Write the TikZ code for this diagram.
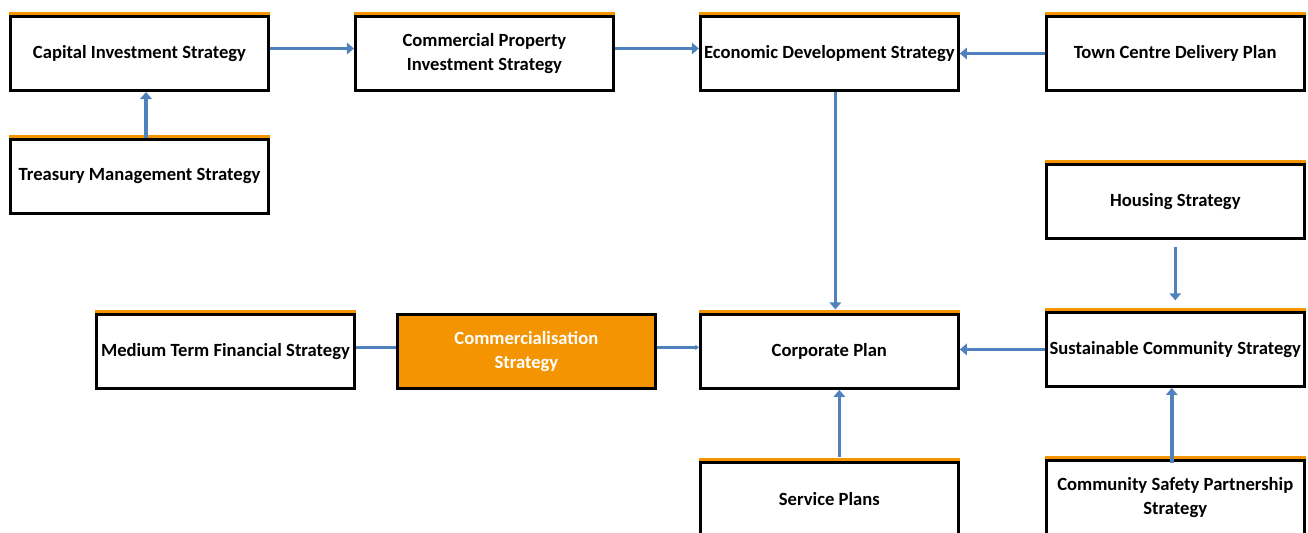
\documentclass[tikz,border=0pt]{standalone}
\usepackage{fontspec}
\setmainfont{Carlito}
\usepackage{tikz}
\usetikzlibrary{positioning, arrows.meta}

\definecolor{stratorange}{RGB}{244,148,0}
\definecolor{linkblue}{RGB}{79,129,189}

\begin{document}
\begin{tikzpicture}[
    x=0.02cm, y=-0.02cm,
    box/.style={rectangle, draw=black, line width=1.7pt, fill=white, inner xsep=1pt, minimum width=5.16cm, minimum height=1.48cm, align=center, font=\fontsize{10.6}{13.7}\selectfont\bfseries},
    keybox/.style={box, fill=stratorange, text=white},
    topline/.style={draw=stratorange, line width=2pt},
    link/.style={draw=linkblue, line width=2pt, -{Triangle[length=4pt, width=6.5pt]}},
    ]
    \useasboundingbox (0,0) rectangle (1308,533);
    \clip (0,0) rectangle (1308,533);

    \node[box] (cap) at (139.5,53.5) {Capital Investment Strategy};
    \node[box] (cpi) [right=1.68cm of cap] {Commercial Property\\Investment Strategy};
    \node[box] (eds) [right=1.68cm of cpi] {Economic Development Strategy};
    \node[box] (tcd) [right=1.7cm of eds] {Town Centre Delivery Plan};
    \node[box] (tms) [below=0.92cm of cap] {Treasury Management Strategy};
    \node[box] (hs) [below=1.42cm of tcd] {Housing Strategy};
    \node[box] (cp) [below=4.42cm of eds] {Corporate Plan};
    \node[box] (scs) [below=1.42cm of hs] {Sustainable Community Strategy};
    \node[keybox] (cs) [left=0.84cm of cp] {Commercialisation\\Strategy};
    \node[box] (mtfs) [left=0.8cm of cs] {Medium Term Financial Strategy};
    \node[box] (sp) [below=1.42cm of cp] {Service Plans};
    \node[box] (csp) [below=1.42cm of scs] {Community Safety Partnership\\Strategy};

    \foreach \n in {cap,cpi,eds,tcd,tms,hs,mtfs,cp,scs,sp,csp}
        \draw[topline] ([yshift=0.9pt]\n.north west) -- ([yshift=0.9pt]\n.north east);

    \draw[link] ([yshift=0.1cm]cap.east) -- ([yshift=0.1cm]cpi.west);
    \draw[link] ([yshift=0.1cm]cpi.east) -- ([yshift=0.1cm]eds.west);
    \draw[link] (tcd.west) -- (tcd.west -| eds.east);
    \draw[link] ([xshift=0.13cm]tms.north) -- ([xshift=0.13cm]cap.south);
    \draw[link] ([xshift=0.12cm]eds.south) -- ([xshift=0.12cm,yshift=2pt]cp.north);
    \draw[link, shorten <=4pt, shorten >=6pt] (hs.south) -- (scs.north);
    \draw[link] (scs.west) -- (scs.west -| cp.east);
    \draw[link] ([xshift=0.2cm,yshift=2pt]sp.north) -- ([xshift=0.2cm]cp.south);
    \draw[link] ([xshift=-0.07cm,yshift=-0.08cm]csp.north) -- ([xshift=-0.07cm]scs.south);
    \draw[link, -] ([yshift=0.08cm]mtfs.east) -- ([yshift=0.08cm]cs.west);
    \draw[link, -{Triangle[length=2pt, width=3pt]}] ([yshift=0.08cm]cs.east) -- ([yshift=0.08cm]cp.west);
\end{tikzpicture}
\end{document}
